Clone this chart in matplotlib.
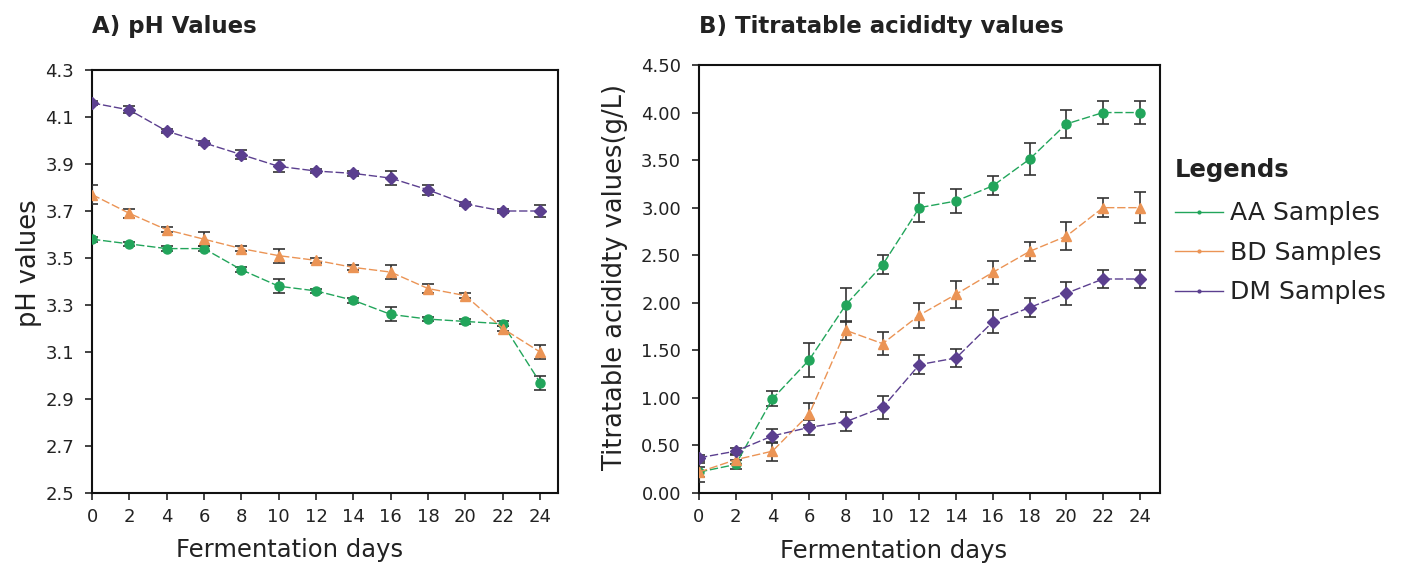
import matplotlib
matplotlib.use("Agg")
import matplotlib.pyplot as plt
from matplotlib.lines import Line2D

days = [0, 2, 4, 6, 8, 10, 12, 14, 16, 18, 20, 22, 24]

ph_aa = [3.58, 3.56, 3.54, 3.54, 3.45, 3.38, 3.36, 3.32, 3.26, 3.24, 3.23, 3.22, 2.97]
ph_aa_err = [0.01, 0.01, 0.01, 0.01, 0.01, 0.03, 0.01, 0.01, 0.03, 0.01, 0.01, 0.01, 0.03]
ph_bd = [3.77, 3.69, 3.62, 3.58, 3.54, 3.51, 3.49, 3.46, 3.44, 3.37, 3.34, 3.20, 3.10]
ph_bd_err = [0.04, 0.02, 0.01, 0.03, 0.01, 0.03, 0.01, 0.01, 0.03, 0.02, 0.01, 0.01, 0.03]
ph_dm = [4.16, 4.13, 4.04, 3.99, 3.94, 3.89, 3.87, 3.86, 3.84, 3.79, 3.73, 3.70, 3.70]
ph_dm_err = [0.01, 0.015, 0.01, 0.01, 0.02, 0.025, 0.01, 0.01, 0.03, 0.02, 0.01, 0.01, 0.025]

ta_aa = [0.22, 0.30, 0.99, 1.40, 1.98, 2.40, 3.00, 3.07, 3.23, 3.51, 3.88, 4.00, 4.00]
ta_aa_err = [0.10, 0.05, 0.08, 0.18, 0.18, 0.10, 0.15, 0.13, 0.10, 0.17, 0.15, 0.12, 0.12]
ta_bd = [0.22, 0.35, 0.44, 0.83, 1.71, 1.57, 1.87, 2.09, 2.32, 2.54, 2.70, 3.00, 3.00]
ta_bd_err = [0.05, 0.05, 0.10, 0.12, 0.10, 0.12, 0.13, 0.14, 0.12, 0.10, 0.15, 0.10, 0.16]
ta_dm = [0.37, 0.44, 0.60, 0.69, 0.75, 0.90, 1.35, 1.42, 1.80, 1.95, 2.10, 2.25, 2.25]
ta_dm_err = [0.03, 0.03, 0.07, 0.08, 0.10, 0.12, 0.10, 0.09, 0.12, 0.10, 0.12, 0.09, 0.09]

ph_ticks = [2.5, 2.7, 2.9, 3.1, 3.3, 3.5, 3.7, 3.9, 4.1, 4.3]
ta_ticks = [0.0, 0.5, 1.0, 1.5, 2.0, 2.5, 3.0, 3.5, 4.0, 4.5]
series_names = ["AA Samples", "BD Samples", "DM Samples"]

c_aa = "#22a55b"
c_bd = "#eb9455"
c_dm = "#5b3f8f"
txt = "#222222"

plt.rcParams['font.family'] = ['DejaVu Sans']

fig = plt.figure(figsize=(14.07, 5.68), dpi=100)
W, H = 1407, 568
ax1 = fig.add_axes([92 / W, 1 - 493 / H, (558 - 92) / W, (493 - 70) / H])
ax2 = fig.add_axes([699 / W, 1 - 493 / H, (1160 - 699) / W, (493 - 65) / H])

def draw(ax, ys, errs, colors, markers):
    for y, e, c, m in zip(ys, errs, colors, markers):
        ax.errorbar(days, y, yerr=e, color=c, marker=m, markersize=6.5,
                    linestyle=(0, (6, 2)), linewidth=1.0, ecolor="#333333",
                    elinewidth=1.2, capsize=4, capthick=1.2, zorder=3)

draw(ax1, [ph_aa, ph_bd, ph_dm], [ph_aa_err, ph_bd_err, ph_dm_err],
     [c_aa, c_bd, c_dm], ["o", "^", "D"])
draw(ax2, [ta_aa, ta_bd, ta_dm], [ta_aa_err, ta_bd_err, ta_dm_err],
     [c_aa, c_bd, c_dm], ["o", "^", "D"])

for ax in (ax1, ax2):
    ax.set_xticks(days)
    ax.set_xticklabels([str(d) for d in days])
    ax.tick_params(axis="both", which="both", direction="out", length=5,
                   width=1.2, labelsize=13, colors=txt, top=False, right=False)
    ax.tick_params(axis="x", pad=6)
    ax.tick_params(axis="y", pad=8)
    for s in ax.spines.values():
        s.set_linewidth(1.5)
        s.set_color("#111111")
    ax.set_xlabel("Fermentation days", fontsize=17.5, color=txt)
    ax.xaxis.set_label_coords(0.423, -0.135)
    ax.xaxis.label.set_verticalalignment("center")

ax1.set_xlim(0, 24.96)
ax1.set_ylim(2.5, 4.3)
ax1.set_yticks(ph_ticks)
ax1.set_yticklabels([f"{t:.1f}" for t in ph_ticks])
ax1.set_ylabel("pH values", fontsize=18.5, color=txt)
ax1.yaxis.set_label_coords(-0.135, 0.544)

ax2.set_xlim(0, 25.1)
ax2.set_ylim(0, 4.5)
ax2.set_yticks(ta_ticks)
ax2.set_yticklabels([f"{t:.2f}" for t in ta_ticks])
ax2.set_ylabel("Titratable acididty values(g/L)", fontsize=18.5, color=txt)
ax2.yaxis.set_label_coords(-0.182, 0.505)

for ax in (ax1, ax2):
    ax.yaxis.label.set_verticalalignment("center")
    ax.yaxis.label.set_horizontalalignment("center")

fig.text(92 / W, 1 - 26 / H, "A) pH Values", fontsize=16.5, fontweight="bold",
         color=txt, va="center", ha="left")
fig.text(699 / W, 1 - 26 / H, "B) Titratable acididty values", fontsize=16.5,
         fontweight="bold", color=txt, va="center", ha="left")

handles = [Line2D([0], [0], color=c, linewidth=1.0, marker=".", markersize=4)
           for c in (c_aa, c_bd, c_dm)]
leg = fig.legend(handles, series_names, title="Legends", loc="upper left",
                 bbox_to_anchor=(1175 / W, 1 - 158 / H), frameon=False,
                 borderpad=0, borderaxespad=0,
                 fontsize=18, title_fontsize=17.5, handlelength=1.9,
                 handletextpad=0.32, labelspacing=0.62, alignment="left")
leg.get_title().set_fontweight("bold")
leg.get_title().set_color(txt)
leg._legend_box.sep = 14
for t in leg.get_texts():
    t.set_color(txt)

fig.savefig("out.png", dpi=100)
